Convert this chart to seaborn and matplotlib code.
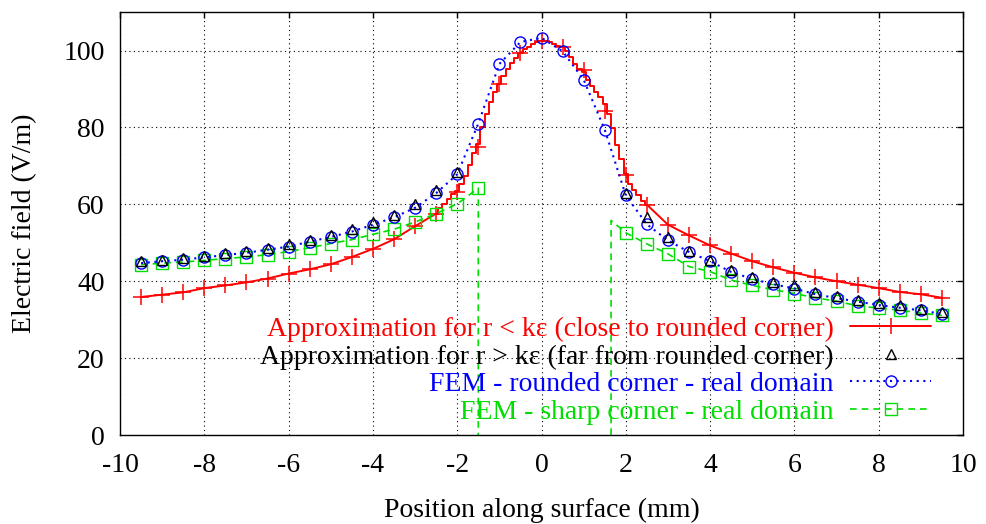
import pandas as pd
import seaborn as sns
import matplotlib.pyplot as plt
from matplotlib.lines import Line2D

# sample positions along the surface (mm), one marker every 0.5 mm
pos = [-9.5, -9.0, -8.5, -8.0, -7.5, -7.0, -6.5, -6.0, -5.5, -5.0, -4.5, -4.0, -3.5, -3.0,
       -2.5, -2.0, -1.5, -1.0, -0.5, 0.0, 0.5, 1.0, 1.5, 2.0, 2.5, 3.0, 3.5, 4.0, 4.5,
       5.0, 5.5, 6.0, 6.5, 7.0, 7.5, 8.0, 8.5, 9.0, 9.5]

# approximation r < k*eps (red)
red_vals = [35.9, 36.5, 37.1, 38.2, 38.9, 39.7, 40.7, 42.0, 43.1, 44.4, 46.3, 48.4, 50.9, 54.3,
            57.6, 63.3, 74.9, 91.2, 99.3, 102.5, 101.0, 94.8, 84.2, 67.5, 59.9, 54.7, 51.9,
            49.3, 47.2, 45.2, 43.6, 42.2, 41.0, 40.0, 39.1, 38.2, 37.2, 36.6, 35.7]
# finer staircase of the red curve near the corner
red_fine_x = [-2.5, -2.4, -2.3, -2.2, -2.1, -2.0, -1.9, -1.8, -1.7, -1.6, -1.5, -1.4, -1.3,
              -1.2, -1.1, -1.0, -0.9, -0.8, -0.7, -0.6, -0.5, -0.4, -0.3, -0.2, -0.1, 0.0,
              0.1, 0.2, 0.3, 0.4, 0.5, 0.6, 0.7, 0.8, 0.9, 1.0, 1.1, 1.2, 1.3, 1.4, 1.5,
              1.6, 1.7, 1.8, 1.9, 2.0, 2.1, 2.2, 2.3, 2.4, 2.5]
red_fine_y = [57.6, 59.0, 60.2, 61.4, 62.6, 63.5, 65.3, 67.3, 70.2, 73.3, 75.8, 80.1, 83.4,
              86.6, 89.3, 91.2, 93.4, 95.1, 96.7, 98.1, 99.3, 100.4, 101.0, 101.7, 102.2, 102.5,
              102.6, 102.3, 101.6, 101.2, 101.0, 99.8, 98.3, 96.5, 95.2, 94.4, 92.4, 90.8,
              89.2, 88.0, 86.0, 83.5, 79.8, 75.5, 71.8, 67.8, 65.4, 63.6, 62.3, 60.8, 59.9]

# approximation r > k*eps (black triangles), only away from the corner
tri_left_x = [-9.5, -9.0, -8.5, -8.0, -7.5, -7.0, -6.5, -6.0, -5.5, -5.0, -4.5, -4.0, -3.5,
              -3.0, -2.5, -2.0]
tri_left_y = [45.2, 45.6, 46.0, 46.6, 47.3, 47.9, 48.7, 49.6, 50.8, 52.0, 53.5, 55.3, 57.3,
              60.0, 63.6, 68.3]
tri_right_x = [2.0, 2.5, 3.0, 3.5, 4.0, 4.5, 5.0, 5.5, 6.0, 6.5, 7.0, 7.5, 8.0, 8.5, 9.0, 9.5]
tri_right_y = [63.0, 56.6, 51.5, 47.9, 45.6, 42.9, 41.0, 39.8, 39.0, 37.2, 36.2, 35.2, 34.4,
               33.8, 32.9, 32.0]

# FEM rounded corner (blue)
blue_vals = [44.7, 45.2, 45.6, 46.2, 46.8, 47.4, 48.2, 49.0, 50.3, 51.5, 52.9, 54.7, 56.6, 59.1,
             62.9, 67.8, 81.0, 96.5, 102.2, 103.3, 99.8, 92.4, 79.4, 62.3, 54.8, 50.6, 47.6,
             45.2, 42.4, 40.6, 39.2, 38.1, 36.6, 35.6, 34.7, 33.8, 33.1, 32.4, 31.5]

# FEM sharp corner (green), two branches ending in a vertical drop to 0
green_left_x = [-9.5, -9.0, -8.5, -8.0, -7.5, -7.0, -6.5, -6.0, -5.5, -5.0, -4.5, -4.0, -3.5,
                -3.0, -2.5, -2.0, -1.5, -1.5]
green_left_y = [44.3, 44.7, 45.0, 45.4, 45.9, 46.3, 46.9, 47.7, 48.7, 49.8, 50.8, 52.2, 53.5,
                55.4, 57.6, 60.1, 64.2, 0.0]
green_right_x = [1.65, 1.65, 2.0, 2.5, 3.0, 3.5, 4.0, 4.5, 5.0, 5.5, 6.0, 6.5, 7.0, 7.5, 8.0,
                 8.5, 9.0, 9.5]
green_right_y = [0.0, 55.8, 52.6, 49.7, 47.1, 43.8, 42.5, 40.3, 38.9, 37.8, 36.8, 35.7, 34.8,
                 33.6, 33.0, 32.5, 31.7, 31.1]

labels = ["Approximation for r < k\u03b5 (close to rounded corner)",
          "Approximation for r > k\u03b5 (far from rounded corner)",
          "FEM - rounded corner - real domain",
          "FEM - sharp corner - real domain"]

RED, BLUE, GREEN = "#ff0000", "#0000ff", "#00dd00"
FS = 20

sns.set_theme(style="white")
plt.rcParams["font.family"] = ["Liberation Serif", "DejaVu Serif"]
plt.rcParams["axes.unicode_minus"] = False
plt.rcParams["text.color"] = "black"
plt.rcParams["axes.labelcolor"] = "black"

fig = plt.figure(figsize=(9.87, 5.24), dpi=100)
ax = fig.add_axes([0.1216, 0.1698, 0.8541, 0.8072])

df = pd.DataFrame({"pos": pos, "red": red_vals, "blue": blue_vals})
fine = pd.DataFrame({"x": red_fine_x, "y": red_fine_y})

# red: smooth outer parts, staircase near the corner
sns.lineplot(data=df.iloc[:15], x="pos", y="red", ax=ax, color=RED, lw=1.4,
             estimator=None, sort=False)
sns.lineplot(data=df.iloc[24:], x="pos", y="red", ax=ax, color=RED, lw=1.4,
             estimator=None, sort=False)
sns.lineplot(data=fine, x="x", y="y", ax=ax, color=RED, lw=1.4, estimator=None,
             sort=False, drawstyle="steps-mid")
sns.lineplot(data=df, x="pos", y="red", ax=ax, color=RED, linestyle="none", marker="+",
             markersize=11, markeredgewidth=1.1, markeredgecolor=RED, estimator=None)

# green sharp corner
gl = pd.DataFrame({"x": green_left_x, "y": green_left_y})
gr = pd.DataFrame({"x": green_right_x, "y": green_right_y})
for g, me in ((gl, list(range(len(gl) - 1))), (gr, list(range(2, len(gr))))):
    sns.lineplot(data=g, x="x", y="y", ax=ax, color=GREEN, lw=1.2, linestyle=(0, (4, 3)),
                 marker="s", markersize=8, markerfacecolor="none", markeredgecolor=GREEN,
                 markeredgewidth=1.0, markevery=me, estimator=None, sort=False)

# blue rounded corner
sns.lineplot(data=df, x="pos", y="blue", ax=ax, color=BLUE, lw=1.5, linestyle=(0, (1, 2.2)),
             marker="o", markersize=8, markerfacecolor="none", markeredgecolor=BLUE,
             markeredgewidth=1.0, estimator=None)

# black triangles
for tx, ty in ((tri_left_x, tri_left_y), (tri_right_x, tri_right_y)):
    sns.lineplot(x=tx, y=ty, ax=ax, color="black", linestyle="none", marker="^",
                 markersize=7, markerfacecolor="none", markeredgecolor="black",
                 markeredgewidth=1.0, estimator=None)

ax.set_xlim(-10, 10)
ax.set_ylim(0, 110)
ax.set_xticks([-10, -8, -6, -4, -2, 0, 2, 4, 6, 8, 10])
ax.set_yticks([0, 20, 40, 60, 80, 100])
ax.grid(True, color="black", linestyle=(0, (1, 3)), lw=0.8)
ax.tick_params(direction="in", top=True, right=True, length=4, width=1, colors="black",
               labelsize=FS)
ax.tick_params(axis="y", pad=11)
ax.tick_params(axis="x", pad=13)
for s in ax.spines.values():
    s.set_color("black")
    s.set_linewidth(1)
ax.set_xlabel("Position along surface (mm)", fontsize=FS, labelpad=14)
ax.set_ylabel("Electric field (V/m)", fontsize=FS, labelpad=19)

handles = [
    Line2D([], [], color=RED, lw=1.4, marker="+", markersize=11, markeredgewidth=1.1),
    Line2D([], [], color="black", linestyle="none", marker="^", markersize=7,
           markerfacecolor="none", markeredgewidth=1.0),
    Line2D([], [], color=BLUE, lw=1.5, linestyle=(0, (1, 2.2)), marker="o", markersize=8,
           markerfacecolor="none", markeredgewidth=1.0),
    Line2D([], [], color=GREEN, lw=1.2, linestyle=(0, (4, 3)), marker="s", markersize=8,
           markerfacecolor="none", markeredgewidth=1.0),
]
ax.legend(handles, labels, loc="lower right", bbox_to_anchor=(0.985, -0.022), frameon=False,
          markerfirst=False, fontsize=FS, handlelength=2.9, labelspacing=0.08,
          handletextpad=0.6, borderpad=0.2, labelcolor=[RED, "black", BLUE, GREEN])

fig.savefig("out.png", dpi=100)
